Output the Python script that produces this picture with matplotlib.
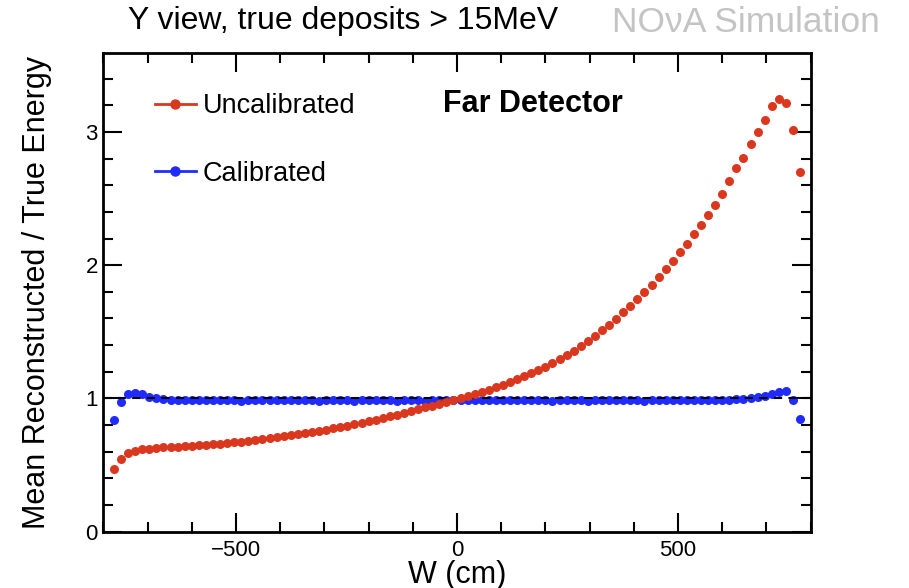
import numpy as np
import matplotlib
matplotlib.use("Agg")
import matplotlib.pyplot as plt
from matplotlib.ticker import MultipleLocator
from matplotlib.lines import Line2D

plt.rcParams["font.family"] = ["Liberation Sans", "DejaVu Sans"]

# bin centres in W (cm): 16 cm bins, outermost bins empty
w_centres = np.arange(-776, 777, 16)

uncalibrated = [
    0.468, 0.543, 0.588, 0.608, 0.618, 0.624, 0.628, 0.632, 0.635, 0.638,
    0.642, 0.645, 0.649, 0.653, 0.657, 0.661, 0.666, 0.671, 0.676, 0.682,
    0.688, 0.694, 0.701, 0.708, 0.715, 0.723, 0.731, 0.740, 0.749, 0.758,
    0.767, 0.777, 0.787, 0.797, 0.808, 0.819, 0.830, 0.842, 0.854, 0.866,
    0.879, 0.892, 0.905, 0.919, 0.933, 0.947, 0.962, 0.977, 0.992,
    1.004, 1.018, 1.033, 1.049, 1.066, 1.084, 1.103, 1.123, 1.144, 1.166,
    1.189, 1.213, 1.239, 1.266, 1.295, 1.326, 1.359, 1.394, 1.431, 1.470,
    1.511, 1.554, 1.599, 1.646, 1.695, 1.746, 1.799, 1.854, 1.911, 1.970,
    2.032, 2.096, 2.162, 2.231, 2.303, 2.378, 2.455, 2.535, 2.630, 2.726,
    2.806, 2.909, 2.999, 3.089, 3.195, 3.244, 3.219, 3.014, 2.696,
]

calibrated = [
    0.838, 0.972, 1.035, 1.040, 1.030, 1.012, 1.000, 0.995, 0.992, 0.990,
    0.992, 0.988, 0.990, 0.986, 0.989, 0.985, 0.988, 0.987, 0.984, 0.988,
    0.986, 0.989, 0.985, 0.987, 0.990, 0.986, 0.988, 0.985, 0.987, 0.983,
    0.986, 0.989, 0.985, 0.987, 0.984, 0.988, 0.986, 0.989, 0.985, 0.987,
    0.984, 0.986, 0.988, 0.985, 0.983, 0.986, 0.988, 0.985, 0.987,
    0.989, 0.986, 0.988, 0.985, 0.987, 0.990, 0.986, 0.988, 0.985, 0.987,
    0.989, 0.986, 0.988, 0.984, 0.987, 0.985, 0.988, 0.986, 0.984, 0.987,
    0.985, 0.988, 0.986, 0.989, 0.985, 0.987, 0.984, 0.987, 0.985, 0.988,
    0.986, 0.987, 0.985, 0.988, 0.986, 0.989, 0.988, 0.990, 0.992, 0.995,
    0.998, 1.002, 1.008, 1.018, 1.035, 1.052, 1.055, 0.985, 0.843,
]

red = "#d9381e"
blue = "#1f2bff"

fig = plt.figure(figsize=(9.09, 5.88), dpi=100)
ax = fig.add_axes([0.1137, 0.0957, 0.7781, 0.8137])

ax.plot(w_centres, calibrated, "o", color=blue, ms=6.5, mew=0, zorder=2)
ax.axhline(1.0, color="black", ls=(0, (4, 3)), lw=1.5, zorder=3)
ax.plot(w_centres, uncalibrated, "o", color=red, ms=6.5, mew=0, zorder=4)

ax.set_xlim(-800, 800)
ax.set_ylim(0, 3.59)
ax.xaxis.set_major_locator(MultipleLocator(500))
ax.xaxis.set_minor_locator(MultipleLocator(100))
ax.yaxis.set_major_locator(MultipleLocator(1))
ax.yaxis.set_minor_locator(MultipleLocator(0.2))
ax.tick_params(which="both", direction="in", top=True, right=True,
               width=1.5, labelsize=16)
ax.tick_params(which="major", length=14)
ax.tick_params(which="minor", length=7)
ax.tick_params(axis="x", pad=6)
ax.tick_params(axis="y", pad=4)
for s in ax.spines.values():
    s.set_linewidth(2)

ax.set_xlabel("W (cm)", fontsize=22, labelpad=-1)
ax.set_ylabel("Mean Reconstructed / True Energy", fontsize=22, labelpad=24)

handles = [
    Line2D([], [], color=red, marker="o", ms=6.5, lw=2),
    Line2D([], [], color=blue, marker="o", ms=6.5, lw=2),
]
ax.legend(handles, ["Uncalibrated", "Calibrated"], loc="upper left",
          bbox_to_anchor=(155 / 909, 1 - 93 / 588),
          bbox_transform=fig.transFigure, frameon=False, fontsize=19.5,
          handlelength=1.5, handletextpad=0.25, labelspacing=1.55,
          borderpad=0, borderaxespad=0)

fig.text(443 / 909, 1 - 104 / 588, "Far Detector", fontsize=22,
         fontweight="bold", va="center", ha="left")
fig.text(128 / 909, 1 - 21 / 588, "Y view, true deposits > 15MeV",
         fontsize=23, va="center", ha="left")
fig.text(612 / 909, 1 - 23 / 588, "NO\u03bdA Simulation", fontsize=25.5,
         color="#c4c4c4", va="center", ha="left")

fig.savefig("out.png", dpi=100)
